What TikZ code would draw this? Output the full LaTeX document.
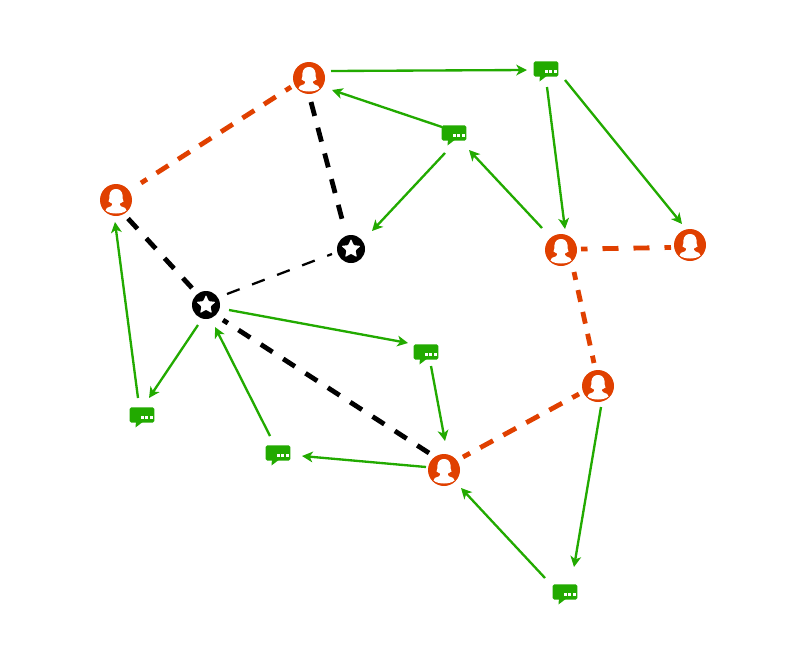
\documentclass[tikz,border=0pt]{standalone}
\usetikzlibrary{arrows.meta,shapes.geometric}
\definecolor{orangeR}{RGB}{224,64,0}
\definecolor{greenM}{RGB}{34,170,0}
\tikzset{
  x=0.75pt,y=-0.75pt,
  personnode/.style={circle,fill=orangeR,minimum size=24pt,inner sep=0pt},
  starnode/.style={circle,fill=black,minimum size=21pt,inner sep=0pt},
  msgnode/.style={rectangle,rounded corners=1.2pt,fill=greenM,minimum width=18.5pt,minimum height=11.5pt,inner sep=0pt},
  flow/.style={draw=greenM,line width=1.75pt,-{Stealth[length=8pt,width=8pt,inset=2.2pt]}},
  tiered/.style={draw=orangeR,line width=3.6pt},
  tieblack/.style={draw=black,line width=3.6pt},
  tiethin/.style={draw=black,line width=1.7pt},
}
\newcommand{\personat}[2]{%
  \node[personnode] (#1) at (#2) {};
  \begin{scope}[shift={(#1.center)}]
    \fill[white] (-10.5,10.5) .. controls (-10.5,8) and (-8.5,7.5) .. (-5.5,6.5)
      .. controls (-3.5,5.5) and (-3.5,4) .. (-4,3.5)
      -- (-7.5,1.5) .. controls (-6,-1) and (-7,-2) .. (-6.5,-5)
      .. controls (-6,-9) and (-3.5,-11) .. (0,-11)
      .. controls (3.5,-11) and (6,-9) .. (6.5,-5)
      .. controls (7,-2) and (6,-1) .. (7.5,1.5)
      -- (4,3.5) .. controls (3.5,4) and (3.5,5.5) .. (5.5,6.5)
      .. controls (8.5,7.5) and (10.5,8) .. (10.5,10.5)
      .. controls (6,14.5) and (-6,14.5) .. (-10.5,10.5) -- cycle;
  \end{scope}}
\newcommand{\starat}[2]{%
  \node[starnode] (#1) at (#2) {};
  \node[star,star points=5,star point ratio=2.1,fill=white,minimum size=15pt,inner sep=0pt,rounded corners=0.6pt] (#1star) at (#1.center) {};}
\newcommand{\msgat}[2]{%
  \node[msgnode] (#1) at (#2) {};
  \begin{scope}[shift={(#1.center)}]
    \fill[greenM] (-6,6) -- (-6.5,12.5) -- (2,6) -- cycle;
    \foreach \dx in {0.7,4.9,9.2} \fill[white] (\dx-1.5,1.2) rectangle (\dx+1.5,4.2);
  \end{scope}}
\newcommand{\flowedge}[4]{\draw[flow] ([shift={(#3)}]#1.center) -- ([shift={(#4)}]#2.center);}
% style, from, to, offset at start, offset at end, on, off, phase (all in reference pixels)
\newcommand{\tieedge}[8]{\draw[#1,dash pattern=on #6*0.75pt off #7*0.75pt,dash phase=#8*0.75pt] ([shift={(#4)}]#2.center) -- ([shift={(#5)}]#3.center);}
\begin{document}
\begin{tikzpicture}
\useasboundingbox (0,0) rectangle (800,650);
\personat{A}{116,200}
\personat{B}{309,78}
\personat{C}{561,250}
\personat{D}{690,245}
\personat{E}{598,386}
\personat{F}{444,470}
\starat{S}{351,249}
\starat{T}{206,305}
\msgat{Ma}{546,69}
\msgat{Mb}{454,133}
\msgat{Mc}{426,352}
\msgat{Md}{142,415}
\msgat{Me}{278,453}
\msgat{Mf}{565,592}
\flowedge{B}{Ma}{22,-7}{-19,1}
\flowedge{Mb}{B}{-12,-6}{23,12}
\flowedge{Mb}{S}{-9,20}{21,-18}
\flowedge{Ma}{C}{1,18}{4,-21}
\flowedge{Ma}{D}{19,11}{-8,-21}
\flowedge{C}{Mb}{-19,-22}{15,17}
\flowedge{T}{Mc}{23,5}{-18,-9}
\flowedge{Mc}{F}{5,14}{1,-29}
\flowedge{F}{Me}{-18,-3}{24,3}
\flowedge{Me}{T}{-8,-17}{9,22}
\flowedge{T}{Md}{-8,20}{7,-17}
\flowedge{Md}{A}{-4,-17}{-1,22}
\flowedge{E}{Mf}{3,21}{9,-25}
\flowedge{Mf}{F}{-20,-14}{17,18}
\tieedge{tiered}{A}{B}{25,-17}{-18,9}{14}{11.5}{7}
\tieedge{tieblack}{B}{S}{2,24}{-9,-30}{14.4}{12.2}{0}
\tieedge{tiethin}{T}{S}{21,-11}{-19,5}{13.5}{13.3}{0}
\tieedge{tieblack}{A}{T}{12,18.5}{-14,-17}{14}{13}{0}
\tieedge{tieblack}{F}{T}{-15,-17}{17,15}{14}{12.6}{0}
\tieedge{tiered}{E}{F}{-19,8}{19,-13}{14.6}{11.6}{7}
\tieedge{tiered}{E}{C}{-4,-23}{13,22}{12}{10.4}{4.5}
\tieedge{tiered}{C}{D}{20,-1}{-19,2.5}{16}{15}{9.5}
\end{tikzpicture}
\end{document}
